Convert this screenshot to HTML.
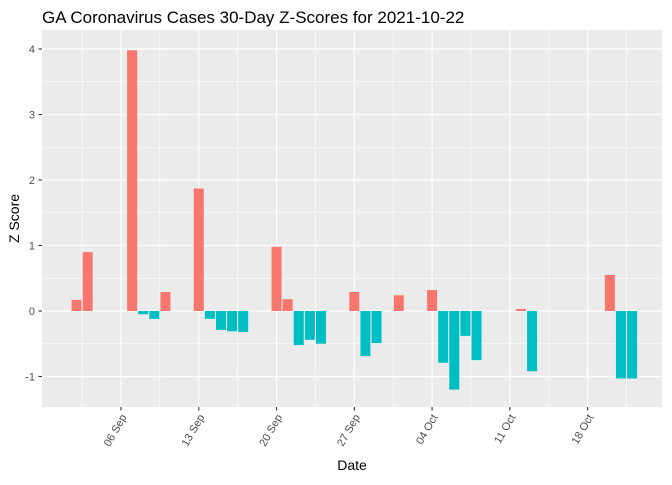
<!DOCTYPE html>
<html><head><meta charset="utf-8"><style>
body{margin:0;background:#fff;width:672px;height:480px;overflow:hidden;font-family:"Liberation Sans",Arial,sans-serif}
</style></head><body>
<svg id="chart" width="672" height="480" xmlns="http://www.w3.org/2000/svg">
<text x="42" y="23" font-size="17" fill="#000">GA Coronavirus Cases 30-Day Z-Scores for 2021-10-22</text>
<rect x="42" y="30" width="620" height="377" fill="#ebebeb"/>
<g id="grid"></g><g id="bars"></g><g id="axes"></g>
<text x="352" y="470" font-size="14" text-anchor="middle" fill="#000">Date</text>
<text transform="translate(19,218.5) rotate(-90)" font-size="14" text-anchor="middle" fill="#000">Z Score</text>
</svg>
<script>
const dates=["2021-09-02","2021-09-03","2021-09-07","2021-09-08","2021-09-09","2021-09-10","2021-09-13","2021-09-14","2021-09-15","2021-09-16","2021-09-17","2021-09-20","2021-09-21","2021-09-22","2021-09-23","2021-09-24","2021-09-27","2021-09-28","2021-09-29","2021-10-01","2021-10-04","2021-10-05","2021-10-06","2021-10-07","2021-10-08","2021-10-12","2021-10-13","2021-10-20","2021-10-21","2021-10-22"];
const zscores=[0.17,0.9,3.98,-0.05,-0.12,0.29,1.87,-0.12,-0.29,-0.31,-0.32,0.98,0.18,-0.52,-0.44,-0.5,0.29,-0.69,-0.49,0.24,0.32,-0.79,-1.2,-0.38,-0.75,0.03,-0.92,0.55,-1.03,-1.03];
const yTicks=[-1,0,1,2,3,4];
const xTickDates=["2021-09-06","2021-09-13","2021-09-20","2021-09-27","2021-10-04","2021-10-11","2021-10-18"];
const xTickLabels=["06 Sep","13 Sep","20 Sep","27 Sep","04 Oct","11 Oct","18 Oct"];
const NS="http://www.w3.org/2000/svg";
const base=Date.UTC(2021,8,6);
function dayOf(s){const p=s.split("-");return (Date.UTC(+p[0],+p[1]-1,+p[2])-base)/86400000;}
function x(d){return 121+d*11.11;}
function y(v){return 311-v*65.5;}
function mk(parent,tag,attrs){const e=document.createElementNS(NS,tag);for(const k in attrs)e.setAttribute(k,attrs[k]);document.getElementById(parent).appendChild(e);return e;}
for(let v=-1.5;v<=4.5;v+=1){const yy=y(v);if(yy<30||yy>407)continue;
const l=mk("grid","line",{x1:42,x2:662,y1:yy,y2:yy,stroke:"#fff","stroke-width":0.6});

}
for(let i=-1;i<xTickDates.length;i++){const d=(i<0?dayOf(xTickDates[0])-7:dayOf(xTickDates[i]))+3.5;const xx=x(d);if(xx<42||xx>662)continue;
const l=mk("grid","line",{x1:xx,x2:xx,y1:30,y2:407,stroke:"#fff","stroke-width":0.6});

}
yTicks.forEach(v=>{const yy=y(v);
const l=mk("grid","line",{x1:42,x2:662,y1:yy,y2:yy,stroke:"#fff","stroke-width":1.2});


const t=mk("axes","line",{x1:38.5,x2:42,y1:yy,y2:yy,stroke:"#333","stroke-width":1.1});


const tx=mk("axes","text",{x:35,y:yy+4,"font-size":11,"text-anchor":"end",fill:"#4d4d4d"});tx.textContent=v;

});
xTickDates.forEach((s,i)=>{const xx=x(dayOf(s));
const l=mk("grid","line",{x1:xx,x2:xx,y1:30,y2:407,stroke:"#fff","stroke-width":1.2});


const t=mk("axes","line",{x1:xx,x2:xx,y1:407,y2:410.5,stroke:"#333","stroke-width":1.1});


const tx=mk("axes","text",{transform:`translate(${xx+6},${417}) rotate(-60)`,"font-size":11,"text-anchor":"end",fill:"#4d4d4d"});tx.textContent=xTickLabels[i];

});
dates.forEach((s,i)=>{const v=zscores[i];const cx=x(dayOf(s));const y0=y(0),y1=y(v);
const r=mk("bars","rect",{x:cx-5,y:Math.min(y0,y1),width:10,height:Math.abs(y1-y0),fill:v>=0?"#f8766d":"#00bfc4"});

});
</script>
</body></html>
